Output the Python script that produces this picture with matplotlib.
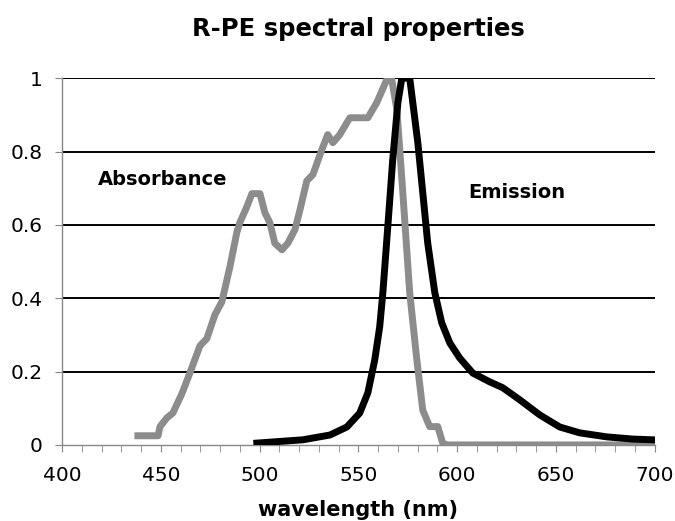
import numpy as np
import matplotlib
matplotlib.use("Agg")
import matplotlib.pyplot as plt

# absorbance curve
abs_wl = [438.4, 448.6, 449.6, 453.1, 456.1, 460.7, 464.7, 469.8, 473.3, 477.4,
          480.9, 485.0, 488.5, 490.0, 493.6, 496.1, 500.2, 502.7, 505.2, 507.7,
          511.3, 514.3, 517.9, 520.4, 523.9, 527.0, 531.5, 534.5, 537.1, 540.6,
          545.7, 554.8, 559.3, 564.4, 566.9, 569.5, 572.5, 576.0, 579.6, 582.6,
          586.1, 590.2, 592.7, 595.0, 700.0]
abs_val = [0.025, 0.025, 0.05, 0.074, 0.087, 0.14, 0.196, 0.27, 0.29, 0.355,
           0.39, 0.486, 0.58, 0.606, 0.65, 0.685, 0.685, 0.633, 0.606, 0.55,
           0.532, 0.55, 0.587, 0.64, 0.72, 0.737, 0.805, 0.846, 0.824, 0.846,
           0.892, 0.892, 0.933, 0.996, 0.996, 0.914, 0.688, 0.415, 0.232, 0.095,
           0.05, 0.05, 0.005, 0.0, 0.0]

# emission curve
em_wl = [498.6, 521.9, 535.6, 544.2, 550.7, 554.8, 558.3, 560.8, 562.4, 564.9,
         567.4, 570.0, 572.0, 576.0, 580.1, 582.6, 585.1, 588.7, 592.2, 596.3,
         601.3, 607.9, 616.5, 623.1, 631.7, 641.8, 651.9, 662.0, 675.7, 688.8, 698.9]
em_val = [0.005, 0.014, 0.027, 0.049, 0.087, 0.142, 0.232, 0.322, 0.415, 0.595,
          0.778, 0.933, 1.0, 1.0, 0.824, 0.688, 0.551, 0.415, 0.333, 0.278,
          0.237, 0.196, 0.172, 0.156, 0.123, 0.082, 0.049, 0.033, 0.022, 0.016, 0.014]

fig = plt.figure(figsize=(6.75, 5.21), dpi=100)
ax = fig.add_axes([0.0919, 0.146, 0.878, 0.704])

ax.plot(abs_wl, abs_val, color='#8c8c8c', lw=5, zorder=3)
ax.plot(em_wl, em_val, color='black', lw=5, zorder=4)

ax.set_xlim(400, 700)
ax.set_ylim(0, 1)
ax.set_xticks(np.arange(400, 701, 50))
ax.set_xticks(np.arange(400, 701, 10), minor=True)
ax.set_yticks([0, 0.2, 0.4, 0.6, 0.8, 1])
ax.set_yticklabels(['0', '0.2', '0.4', '0.6', '0.8', '1'])
for y in [0.2, 0.4, 0.6, 0.8, 1.0]:
    ax.axhline(y, color='black', lw=1.4, zorder=1)

for s in ['top', 'right']:
    ax.spines[s].set_visible(False)
for s in ['left', 'bottom']:
    ax.spines[s].set_color('#888888')
    ax.spines[s].set_linewidth(1)
ax.tick_params(axis='both', which='both', direction='out', color='#888888', length=5,
               labelsize=14.5)
ax.tick_params(axis='x', which='major', pad=10)
ax.tick_params(axis='y', pad=9)

ax.set_title('R-PE spectral properties', fontsize=17.5, fontweight='bold', pad=30)
ax.set_xlabel('wavelength (nm)', fontsize=15, fontweight='bold', labelpad=11)

ax.text(451, 0.723, 'Absorbance', fontsize=14, fontweight='bold', ha='center', va='center')
ax.text(630, 0.688, 'Emission', fontsize=14, fontweight='bold', ha='center', va='center')

fig.savefig('out.png', dpi=100)
